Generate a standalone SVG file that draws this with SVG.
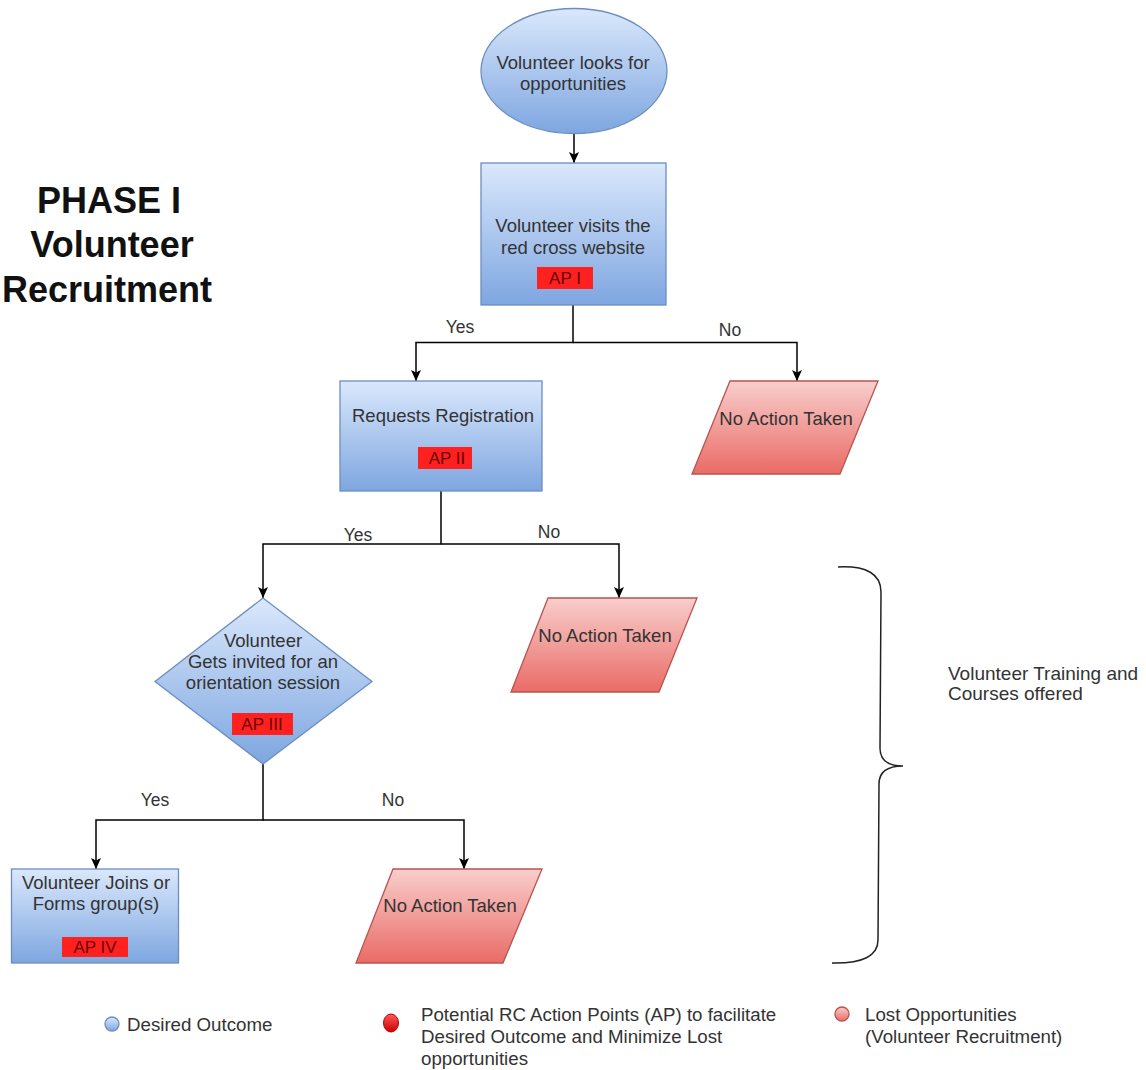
<svg xmlns="http://www.w3.org/2000/svg" width="1146" height="1070" viewBox="0 0 1146 1070">
  <defs>
    <linearGradient id="gBlue" x1="0" y1="0" x2="0" y2="1">
      <stop offset="0" stop-color="#dae8fc"/>
      <stop offset="1" stop-color="#7ea6e0"/>
    </linearGradient>
    <linearGradient id="gRed" x1="0" y1="0" x2="0" y2="1">
      <stop offset="0" stop-color="#f8cecc"/>
      <stop offset="1" stop-color="#ea6b66"/>
    </linearGradient>
    <linearGradient id="gDot" x1="0" y1="0" x2="0" y2="1">
      <stop offset="0" stop-color="#ff5a5a"/>
      <stop offset="1" stop-color="#cc0000"/>
    </linearGradient>
    <marker id="arrow" markerWidth="12" markerHeight="12" refX="11" refY="5" orient="auto" markerUnits="userSpaceOnUse">
      <path d="M0,0 L11,5 L0,10 L2.5,5 z" fill="#000"/>
    </marker>
    <style>
      .txt { font-family: "Liberation Sans", Arial, sans-serif; font-size: 18.5px; fill: #333; }
      .mid { text-anchor: middle; dominant-baseline: central; }
      .lbl { font-family: "Liberation Sans", Arial, sans-serif; font-size: 17.5px; fill: #333; dominant-baseline: central; text-anchor: middle; }
      .note { font-family: "Liberation Sans", Arial, sans-serif; font-size: 19px; fill: #333; dominant-baseline: central; }
      .leg { font-family: "Liberation Sans", Arial, sans-serif; font-size: 18.7px; fill: #333; dominant-baseline: central; }
      .title { font-family: "Liberation Sans", Arial, sans-serif; font-size: 36px; font-weight: bold; fill: #111; text-anchor: middle; dominant-baseline: central; }
      .blue { fill: url(#gBlue); stroke: #6c8ebf; stroke-width: 1.3; }
      .red { fill: url(#gRed); stroke: #b85450; stroke-width: 1.3; }
      .ap { fill: #ff2020; stroke: none; }
      .aptxt { font-family: "Liberation Sans", Arial, sans-serif; font-size: 17px; fill: #6a0000; text-anchor: middle; dominant-baseline: central; }
      .edge { fill: none; stroke: #000; stroke-width: 1.5; }
    </style>
  </defs>

  <rect width="1146" height="1070" fill="#fff"/>

  <!-- heading -->
  <g id="heading">
    <text class="title" x="109" y="200">PHASE I</text>
    <text class="title" x="112" y="244">Volunteer</text>
    <text class="title" x="107" y="289">Recruitment</text>
  </g>

  <!-- connectors -->
  <g id="connectors">
    <path class="edge" d="M574,133 V163" marker-end="url(#arrow)"/>
    <path class="edge" d="M573,305 V342.5 H416 V381" marker-end="url(#arrow)"/>
    <path class="edge" d="M573,342.5 H797 V381" marker-end="url(#arrow)"/>
    <path class="edge" d="M441,491 V544 H263 V598" marker-end="url(#arrow)"/>
    <path class="edge" d="M441,544 H619 V598" marker-end="url(#arrow)"/>
    <path class="edge" d="M263,764 V820 H96 V869" marker-end="url(#arrow)"/>
    <path class="edge" d="M263,820 H464 V869" marker-end="url(#arrow)"/>
    <text class="lbl" x="460" y="327">Yes</text>
    <text class="lbl" x="730" y="330">No</text>
    <text class="lbl" x="358" y="535">Yes</text>
    <text class="lbl" x="549" y="532">No</text>
    <text class="lbl" x="155" y="800">Yes</text>
    <text class="lbl" x="393" y="800">No</text>
  </g>

  <!-- start -->
  <g id="start">
    <ellipse class="blue" cx="574" cy="71" rx="93" ry="62.5"/>
    <text class="txt mid" x="573" y="62">Volunteer looks for</text>
    <text class="txt mid" x="573" y="83">opportunities</text>
  </g>

  <g id="visit-website">
    <rect class="blue" x="481" y="163" width="185" height="142"/>
    <text class="txt mid" x="573" y="225">Volunteer visits the</text>
    <text class="txt mid" x="573" y="247">red cross website</text>
    <rect class="ap" x="537" y="267" width="56" height="22"/>
    <text class="aptxt" x="565" y="278">AP I</text>
  </g>

  <g id="no-action-1">
    <polygon class="red" points="730,381 878,381 840,474 692,474"/>
    <text class="txt mid" x="786" y="418">No Action Taken</text>
  </g>

  <g id="request-registration">
    <rect class="blue" x="340" y="381" width="202" height="110"/>
    <text class="txt mid" x="443" y="415">Requests Registration</text>
    <rect class="ap" x="418" y="447" width="54" height="22"/>
    <text class="aptxt" x="447" y="458">AP II</text>
  </g>

  <g id="no-action-2">
    <polygon class="red" points="548,598 697,598 659,692 511,692"/>
    <text class="txt mid" x="605" y="635">No Action Taken</text>
  </g>

  <g id="orientation">
    <polygon class="blue" points="263,598 372,681.5 263,764 155,681.5"/>
    <text class="txt mid" x="263" y="640">Volunteer</text>
    <text class="txt mid" x="263" y="661">Gets invited for an</text>
    <text class="txt mid" x="263" y="682">orientation session</text>
    <rect class="ap" x="232" y="713" width="61" height="22"/>
    <text class="aptxt" x="262" y="724">AP III</text>
  </g>

  <g id="joins-group">
    <rect class="blue" x="11.5" y="869" width="167" height="94"/>
    <text class="txt mid" x="96" y="882">Volunteer Joins or</text>
    <text class="txt mid" x="96" y="903">Forms group(s)</text>
    <rect class="ap" x="62" y="937" width="66" height="20"/>
    <text class="aptxt" x="95" y="947">AP IV</text>
  </g>

  <g id="no-action-3">
    <polygon class="red" points="393,869 542,869 503,963 356,963"/>
    <text class="txt mid" x="450" y="905">No Action Taken</text>
  </g>

  <!-- curly bracket with its note -->
  <g id="training-bracket">
    <path d="M838,567 Q881,565 881,592 L880,748 Q880,766 903,766 Q879,766 879,784 L878,940 Q878,964 832,963" fill="none" stroke="#222" stroke-width="1.5"/>
    <text class="note" x="948" y="673">Volunteer Training and</text>
    <text class="note" x="948" y="693">Courses offered</text>
  </g>

  <!-- legend -->
  <g id="legend">
    <circle cx="112" cy="1024" r="7" fill="url(#gBlue)" stroke="#6c8ebf" stroke-width="1.3"/>
    <text class="leg" x="127" y="1024">Desired Outcome</text>
    <ellipse cx="391" cy="1023" rx="7.5" ry="9" fill="url(#gDot)" stroke="#b00000" stroke-width="1"/>
    <text class="leg" x="421" y="1014">Potential RC Action Points (AP) to facilitate</text>
    <text class="leg" x="421" y="1036">Desired Outcome and Minimize Lost</text>
    <text class="leg" x="421" y="1058">opportunities</text>
    <circle cx="842" cy="1014" r="7" fill="url(#gRed)" stroke="#b85450" stroke-width="1.3"/>
    <text class="leg" x="865" y="1014">Lost Opportunities</text>
    <text class="leg" x="865" y="1036">(Volunteer Recruitment)</text>
  </g>
</svg>
